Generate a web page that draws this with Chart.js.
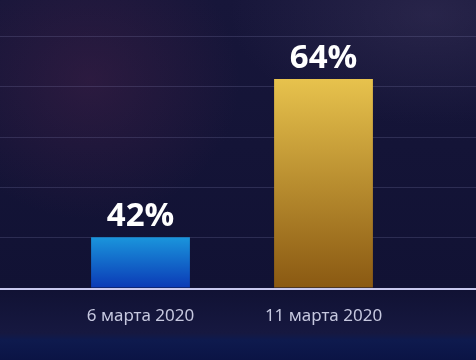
<!DOCTYPE html>
<html>
<head>
<meta charset="utf-8">
<script src="https://cdn.jsdelivr.net/npm/chart.js@4"></script>
<style>
  html, body { margin: 0; padding: 0; }
  body {
    width: 476px; height: 360px; overflow: hidden;
    background:
      radial-gradient(ellipse 150px 140px at 90px 80px, rgba(80,35,75,0.38), rgba(80,35,75,0) 100%),
      radial-gradient(ellipse 200px 110px at 430px 15px, rgba(80,70,110,0.3), rgba(80,70,110,0) 100%),
      linear-gradient(to bottom, #17163a 0px, #111234 290px, #161840 333px, #0e1a4e 340px, #0b1445 360px);
  }
  canvas { display: block; }
</style>
</head>
<body>
<canvas id="chart" width="476" height="360"></canvas>
<script>
const ctx = document.getElementById('chart').getContext('2d')

// chart values
var dates = ['6 марта 2020', '11 марта 2020']
var percents = [42, 64]
var axisMin = 35
var axisMax = 75
var axisStep = 7

function barGradient(top, bottom) {
  return function (c) {
    let area = c.chart.chartArea
    if (!area) return top
    let y0 = c.chart.scales.y.getPixelForValue(c.raw)
    let g = c.chart.ctx.createLinearGradient(0, y0, 0, area.bottom)
    g.addColorStop(0, top)
    g.addColorStop(1, bottom)
    return g
  }
}
var fills = [barGradient('#1a95dc', '#0b3ab6'), barGradient('#e7c24d', '#8a5912')]

// horizontal lines across the whole picture, placed by the y scale
const fullGrid = {
  id: 'fullGrid',
  beforeDatasetsDraw(chart) {
    let y = chart.scales.y
    let c = chart.ctx
    c.save()
    y.ticks.forEach((t) => {
      if (t.value >= axisMax || t.value === axisMin) return
      let py = Math.round(y.getPixelForValue(t.value))
      c.strokeStyle = 'rgba(150,150,200,0.2)'
      c.lineWidth = 1
      c.beginPath()
      c.moveTo(0, py + 0.5)
      c.lineTo(chart.width, py + 0.5)
      c.stroke()
    })
    c.restore()
  },
  afterDatasetsDraw(chart) {
    let y = chart.scales.y
    let c = chart.ctx
    let py = Math.round(y.getPixelForValue(axisMin))
    c.save()
    c.strokeStyle = '#c9c9ee'
    c.lineWidth = 2
    c.beginPath()
    c.moveTo(0, py + 1)
    c.lineTo(chart.width, py + 1)
    c.stroke()
    c.restore()
  }
}

// value labels above the bars
const valueLabels = {
  id: 'valueLabels',
  afterDatasetsDraw(chart) {
    let c = chart.ctx
    let meta = chart.getDatasetMeta(0)
    c.save()
    c.fillStyle = '#ffffff'
    c.font = 'bold 33px "Open Sans"'
    c.textAlign = 'center'
    c.textBaseline = 'alphabetic'
    meta.data.forEach((bar, i) => {
      c.fillText(percents[i] + '%', bar.x, bar.y - 11)
    })
    c.restore()
  }
}

var myChart = new Chart(ctx, {
  type: 'bar',
  data: {
    labels: dates,
    datasets: [{
      data: percents,
      backgroundColor: (c) => fills[c.dataIndex](c),
      borderWidth: 0,
      categoryPercentage: 1,
      barPercentage: 0.54
    }]
  },
  options: {
    responsive: false,
    animation: false,
    layout: { padding: { left: 49, right: 61, top: 0, bottom: 16 } },
    plugins: { legend: { display: false }, tooltip: { enabled: false } },
    scales: {
      x: {
        grid: { display: false, drawTicks: false },
        border: { display: false },
        ticks: {
          color: '#c6c8df',
          font: { family: '"Noto Sans"', size: 17 },
          padding: 18
        }
      },
      y: {
        min: axisMin,
        max: axisMax,
        grid: { display: false, drawTicks: false },
        border: { display: false },
        ticks: { stepSize: axisStep, display: false }
      }
    }
  },
  plugins: [fullGrid, valueLabels]
})
</script>
</body>
</html>
